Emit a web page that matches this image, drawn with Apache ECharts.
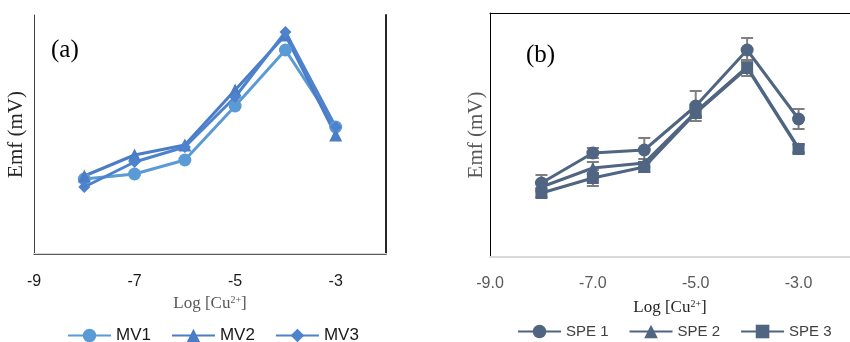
<!DOCTYPE html>
<html><head><meta charset="utf-8">
<script src="https://cdn.jsdelivr.net/npm/echarts@6/dist/echarts.min.js"></script>
<style>html,body{margin:0;padding:0;background:#fff}#c{width:850px;height:342px}</style>
</head><body><div id="c"></div>
<script>
// log[Cu2+] positions
const logCu = [-8, -7, -6, -5, -4, -3];
// Panel (a) - Emf (arbitrary units, axis unlabeled)
const mv1 = [75, 80, 94, 148, 204, 127];
const mv2 = [78, 99, 109, 164, 219, 119];
const mv3 = [67, 92, 107, 157, 222, 127];
// Panel (b)
const spe1 = [74, 104, 107, 151, 207, 138];
const spe2 = [70, 89, 94, 145, 190, 109];
const spe3 = [64, 79, 90, 144, 189, 108];
const spe1Err = [8, 5, 12, 15, 12, 10];
const spe2Err = [4, 6, 4, 4, 6, 4];
const spe3Err = [4, 8, 5, 4, 8, 4];

const pts = arr => logCu.map((x, i) => [x, arr[i]]);
const errPts = (arr, e) => logCu.map((x, i) => [x, arr[i], e[i]]);

const serif = 'Liberation Serif';
const sans = 'Liberation Sans';
const colA1 = '#5B9BD5', colA2 = '#4A7DC6', colA3 = '#4E82CC';
const colB = '#4F6581';

function errSeries(data, xi, yi) {
  return {
    type: 'custom', xAxisIndex: xi, yAxisIndex: yi, z: 1, silent: true,
    data: data,
    renderItem: function (params, api) {
      const x = api.value(0), y = api.value(1), e = api.value(2);
      const hi = api.coord([x, y + e]);
      const lo = api.coord([x, y - e]);
      const w = 6;
      const st = { stroke: '#7F7F7F', lineWidth: 2 };
      return { type: 'group', children: [
        { type: 'line', shape: { x1: hi[0], y1: hi[1], x2: lo[0], y2: lo[1] }, style: st },
        { type: 'line', shape: { x1: hi[0] - w, y1: hi[1], x2: hi[0] + w, y2: hi[1] }, style: st },
        { type: 'line', shape: { x1: lo[0] - w, y1: lo[1], x2: lo[0] + w, y2: lo[1] }, style: st }
      ]};
    }
  };
}

function lineSeries(name, data, color, symbol, size, xi, yi) {
  return {
    name, type: 'line', xAxisIndex: xi, yAxisIndex: yi, data,
    symbol, symbolSize: size, showAllSymbol: true, z: 3,
    lineStyle: { color, width: 3 }, itemStyle: { color }
  };
}

const chart = echarts.init(document.getElementById('c'));
chart.setOption({
  animation: false,
  textStyle: { fontFamily: sans },
  title: [
    { text: '(a)', left: 46, top: 33, textStyle: { fontFamily: serif, fontSize: 25, fontWeight: 'normal', color: '#000' } },
    { text: '(b)', left: 521, top: 38, textStyle: { fontFamily: serif, fontSize: 25, fontWeight: 'normal', color: '#000' } }
  ],
  grid: [
    { left: 34, top: 15, width: 352, height: 239 },
    { left: 490, top: 13, width: 364, height: 244 }
  ],
  xAxis: [
    { type: 'value', gridIndex: 0, min: -9, max: -2, interval: 2,
      axisLine: { lineStyle: { color: '#D9D9D9', width: 2 } }, axisTick: { show: false }, splitLine: { show: false },
      axisLabel: { showMaxLabel: false, fontSize: 16, color: '#1a1a1a', margin: 20, fontFamily: sans },
      name: 'Log [Cu{sup|2+}]', nameLocation: 'middle', nameGap: 41,
      nameTextStyle: { fontFamily: serif, fontSize: 17, color: '#595959',
        rich: { sup: { fontFamily: serif, fontSize: 10, color: '#595959', verticalAlign: 'top', padding: [0, 0, 6, 0] } } } },
    { type: 'value', gridIndex: 0, position: 'top', min: -9, max: -2,
      axisLine: { lineStyle: { color: '#595959', width: 1 } }, axisTick: { show: false }, axisLabel: { show: false }, splitLine: { show: false } },
    { type: 'value', gridIndex: 1, min: -9, max: -2, interval: 2,
      axisLine: { lineStyle: { color: '#D9D9D9', width: 2 } }, axisTick: { show: false }, splitLine: { show: false },
      axisLabel: { showMaxLabel: false, fontSize: 16, color: '#595959', margin: 19, fontFamily: sans, formatter: v => v.toFixed(1) },
      name: 'Log [Cu{sup|2+}]', nameLocation: 'middle', nameGap: 42,
      nameTextStyle: { fontFamily: serif, fontSize: 17, color: '#262626',
        rich: { sup: { fontFamily: serif, fontSize: 10, color: '#262626', verticalAlign: 'top', padding: [0, 0, 6, 0] } } } },
    { type: 'value', gridIndex: 1, position: 'top', min: -9, max: -2,
      axisLine: { lineStyle: { color: '#000', width: 1 } }, axisTick: { show: false }, axisLabel: { show: false }, splitLine: { show: false } }
  ],
  yAxis: [
    { type: 'value', gridIndex: 0, min: 0, max: 239,
      axisLine: { show: true, lineStyle: { color: '#404040', width: 1 } }, axisTick: { show: false }, axisLabel: { show: false }, splitLine: { show: false },
      name: 'Emf (mV)', nameLocation: 'middle', nameGap: 7, nameRotate: 90,
      nameTextStyle: { fontFamily: serif, fontSize: 21, color: '#262626' } },
    { type: 'value', gridIndex: 0, position: 'right', min: 0, max: 239,
      axisLine: { show: true, lineStyle: { color: '#262626', width: 2 } }, axisTick: { show: false }, axisLabel: { show: false }, splitLine: { show: false } },
    { type: 'value', gridIndex: 1, min: 0, max: 244,
      axisLine: { show: true, lineStyle: { color: '#000', width: 1 } }, axisTick: { show: false }, axisLabel: { show: false }, splitLine: { show: false },
      name: 'Emf (mV)', nameLocation: 'middle', nameGap: 3, nameRotate: 90,
      nameTextStyle: { fontFamily: serif, fontSize: 21, color: '#595959' } }
  ],
  legend: [
    { data: ['MV1', 'MV2', 'MV3'], left: 62, top: 322, itemWidth: 43, itemHeight: 17, itemGap: 20,
      textStyle: { fontSize: 17, color: '#1a1a1a', fontFamily: sans } },
    { data: ['SPE 1', 'SPE 2', 'SPE 3'], left: 512, top: 319, itemWidth: 43, itemHeight: 17, itemGap: 20,
      textStyle: { fontSize: 15, color: '#404040', fontFamily: sans } }
  ],
  series: [
    lineSeries('MV1', pts(mv1), colA1, 'circle', 13, 0, 0),
    lineSeries('MV2', pts(mv2), colA2, 'triangle', 13, 0, 0),
    lineSeries('MV3', pts(mv3), colA3, 'diamond', 12, 0, 0),
    errSeries(errPts(spe1, spe1Err), 2, 2),
    errSeries(errPts(spe2, spe2Err), 2, 2),
    errSeries(errPts(spe3, spe3Err), 2, 2),
    lineSeries('SPE 1', pts(spe1), colB, 'circle', 13, 2, 2),
    lineSeries('SPE 2', pts(spe2), colB, 'triangle', 12, 2, 2),
    lineSeries('SPE 3', pts(spe3), colB, 'rect', 12, 2, 2)
  ]
});
</script></body></html>
